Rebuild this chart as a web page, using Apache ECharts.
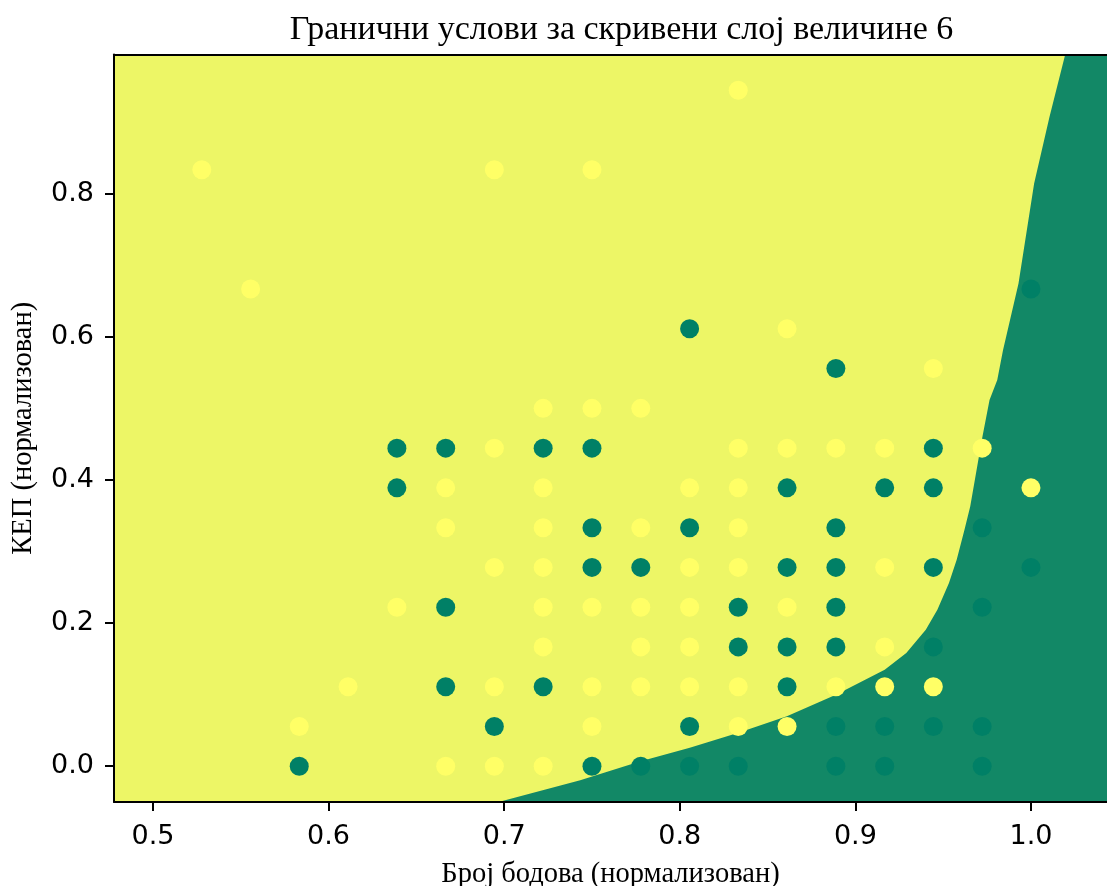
<!DOCTYPE html>
<html>
<head>
<meta charset="utf-8">
<script src="https://cdn.jsdelivr.net/npm/echarts@6/dist/echarts.min.js"></script>
<style>html,body{margin:0;padding:0;background:#fff}#c{width:1107px;height:886px}</style>
</head>
<body>
<div id="c"></div>
<script>
// ---- data ----
const titleText = 'Гранични услови за скривени слој величине 6';
const xName = 'Број бодова (нормализован)';
const yName = 'КЕП (нормализован)';
const xTicks = [0.5, 0.6, 0.7, 0.8, 0.9, 1.0];
const yTicks = [0.0, 0.2, 0.4, 0.6, 0.8];
const xRange = [0.4778, 1.0433];
const yRange = [-0.05, 0.9944];

// points of class "yellow"
const yellowX = [0.5278,0.5556,0.5833,0.6111,0.6389,0.6667,0.6667,0.6667,0.6944,0.6944,0.6944,0.6944,0.6944,
  0.7222,0.7222,0.7222,0.7222,0.7222,0.7222,0.7222,0.75,0.75,0.75,0.75,0.75,
  0.7778,0.7778,0.7778,0.7778,0.7778,0.8056,0.8056,0.8056,0.8056,0.8056,
  0.8333,0.8333,0.8333,0.8333,0.8333,0.8333,0.8333,0.8611,0.8611,0.8611,0.8611,
  0.8889,0.8889,0.9167,0.9167,0.9167,0.9167,0.9444,0.9444,0.9722,1.0];
const yellowY = [0.8333,0.6667,0.0556,0.1111,0.2222,0.3889,0.3333,0.0,0.8333,0.4444,0.2778,0.1111,0.0,
  0.5,0.3889,0.3333,0.2778,0.2222,0.1667,0.0,0.8333,0.5,0.2222,0.1111,0.0556,
  0.5,0.3333,0.2222,0.1667,0.1111,0.3889,0.2778,0.2222,0.1667,0.1111,
  0.9444,0.4444,0.3889,0.3333,0.2778,0.1111,0.0556,0.6111,0.4444,0.2222,0.0556,
  0.4444,0.1111,0.4444,0.2778,0.1667,0.1111,0.5556,0.1111,0.4444,0.3889];

// points of class "green"
const greenX = [0.5833,0.6389,0.6389,0.6667,0.6667,0.6667,0.6944,0.7222,0.7222,
  0.75,0.75,0.75,0.75,0.7778,0.7778,0.8056,0.8056,0.8056,0.8056,
  0.8333,0.8333,0.8333,0.8611,0.8611,0.8611,0.8611,
  0.8889,0.8889,0.8889,0.8889,0.8889,0.8889,0.8889,0.9167,0.9167,0.9167,
  0.9444,0.9444,0.9444,0.9444,0.9444,0.9722,0.9722,0.9722,0.9722,1.0,1.0];
const greenY = [0.0,0.4444,0.3889,0.4444,0.2222,0.1111,0.0556,0.4444,0.1111,
  0.4444,0.3333,0.2778,0.0,0.2778,0.0,0.6111,0.3333,0.0556,0.0,
  0.2222,0.1667,0.0,0.3889,0.2778,0.1667,0.1111,
  0.5556,0.3333,0.2778,0.2222,0.1667,0.0556,0.0,0.3889,0.0556,0.0,
  0.4444,0.3889,0.2778,0.1667,0.0556,0.3333,0.2222,0.0556,0.0,0.6667,0.2778];

// decision boundary (green region lies to the right of it)
const boundaryX = [0.6968,0.7433,0.7777,0.8057,0.8334,0.8610,0.8889,0.9167,0.9290,0.9401,0.9467,
  0.9533,0.9577,0.9621,0.9654,0.9687,0.9720,0.9764,0.9808,0.9841,0.9929,1.0018,1.0105,1.0195];
const boundaryY = [-0.05,-0.0195,0.0070,0.0257,0.0466,0.0698,0.1000,0.1349,0.1582,0.1907,0.2186,
  0.2559,0.2884,0.3302,0.3627,0.4094,0.4558,0.5116,0.5395,0.5814,0.6744,0.8140,0.9069,0.9944];

const YELLOW_BG = '#EDF666', GREEN_BG = '#128866';
const YELLOW_PT = '#FFFF66', GREEN_PT = '#008066';

const chart = echarts.init(document.getElementById('c'), null, {renderer: 'canvas'});
const tickFont = {fontFamily: 'DejaVu Sans', fontSize: 27, color: '#000'};
const serif = 'Liberation Serif';

function zip(xs, ys) { return xs.map((x, i) => [x, ys[i]]); }

chart.setOption({
  animation: false,
  title: {
    text: titleText, left: 616.5, top: 8, textAlign: 'center',
    textStyle: {fontFamily: serif, fontSize: 34, fontWeight: 'normal', color: '#000'}
  },
  grid: {
    left: 114, top: 54.5, right: 0, bottom: 84,
    outerBoundsMode: 'none', containLabel: false,
    show: true, backgroundColor: YELLOW_BG, borderWidth: 0
  },
  xAxis: [{
    type: 'value', min: xRange[0], max: xRange[1], z: 10,
    name: xName, nameLocation: 'middle', nameGap: 58,
    nameTextStyle: {fontFamily: serif, fontSize: 28.5, color: '#000'},
    axisLine: {show: true, onZero: false, lineStyle: {color: '#000', width: 2}},
    axisTick: {show: true, length: 9, lineStyle: {color: '#000', width: 2}, customValues: xTicks},
    axisLabel: Object.assign({margin: 21, customValues: xTicks, formatter: v => v.toFixed(1)}, tickFont),
    splitLine: {show: false}
  }, {
    type: 'value', position: 'top', min: xRange[0], max: xRange[1], z: 10,
    axisLine: {show: true, onZero: false, lineStyle: {color: '#000', width: 2}},
    axisTick: {show: false}, axisLabel: {show: false}, splitLine: {show: false}
  }],
  yAxis: {
    type: 'value', min: yRange[0], max: yRange[1], z: 10,
    name: yName, nameLocation: 'middle', nameGap: 76, nameRotate: 90,
    nameTextStyle: {fontFamily: serif, fontSize: 28.5, color: '#000'},
    axisLine: {show: true, onZero: false, lineStyle: {color: '#000', width: 2}},
    axisTick: {show: true, length: 9, lineStyle: {color: '#000', width: 2}, customValues: yTicks},
    axisLabel: Object.assign({margin: 20, customValues: yTicks, formatter: v => v.toFixed(1)}, tickFont),
    splitLine: {show: false}
  },
  series: [{
    type: 'custom',
    xAxisIndex: 0,
    data: zip(boundaryX, boundaryY),
    z: 1,
    silent: true,
    clip: true,
    renderItem: function (params, api) {
      if (params.dataIndex !== 0) return null;
      const pts = boundaryX.map((x, i) => api.coord([x, boundaryY[i]]));
      pts.push(api.coord([xRange[1] + 0.02, yRange[1]]));
      pts.push(api.coord([xRange[1] + 0.02, yRange[0]]));
      return {type: 'polygon', shape: {points: pts, smooth: 0}, style: {fill: GREEN_BG, stroke: null}};
    }
  }, {
    type: 'scatter', xAxisIndex: 0, data: zip(yellowX, yellowY), symbolSize: 19, z: 3,
    itemStyle: {color: YELLOW_PT, borderWidth: 0, opacity: 1}
  }, {
    type: 'scatter', xAxisIndex: 0, data: zip(greenX, greenY), symbolSize: 19, z: 3,
    itemStyle: {color: GREEN_PT, borderWidth: 0, opacity: 1}
  }]
});
</script>
</body>
</html>
